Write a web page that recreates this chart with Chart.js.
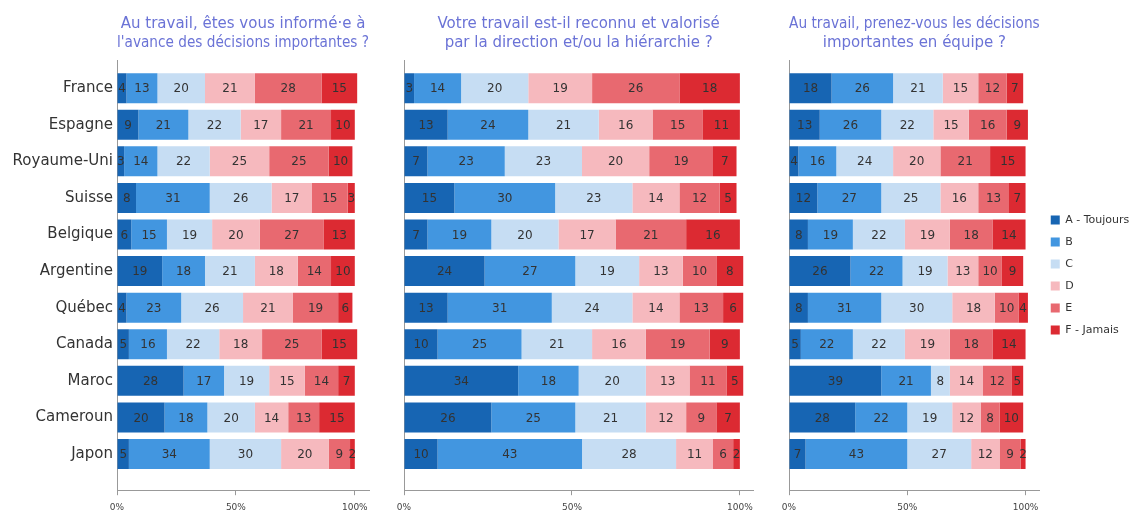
<!DOCTYPE html>
<html>
<head>
<meta charset="utf-8">
<script src="https://cdn.jsdelivr.net/npm/chart.js@4/dist/chart.umd.min.js"></script>
<style>
    body { margin: 0; background: #fff; }
    .panel { position: absolute; top: 0; }
</style>
</head>
<body>
<div class="panel" style="left:0px"><canvas id="chartInforme" width="375" height="515"></canvas></div>
<div class="panel" style="left:380px"><canvas id="chartReconnu" width="380" height="515"></canvas></div>
<div class="panel" style="left:760px"><canvas id="chartEquipe" width="381" height="515"></canvas></div>
<script>
// Pays (du haut vers le bas)
const countries = ["France", "Espagne", "Royaume-Uni", "Suisse", "Belgique", "Argentine", "Québec", "Canada", "Maroc", "Cameroun", "Japon"];
const answers = ["A - Toujours", "B", "C", "D", "E", "F - Jamais"];
const xTicks = [0, 50, 100];

// une ligne par réponse (A..F), une valeur par pays
const informeValues = [
    [4, 9, 3, 8, 6, 19, 4, 5, 28, 20, 5],
    [13, 21, 14, 31, 15, 18, 23, 16, 17, 18, 34],
    [20, 22, 22, 26, 19, 21, 26, 22, 19, 20, 30],
    [21, 17, 25, 17, 20, 18, 21, 18, 15, 14, 20],
    [28, 21, 25, 15, 27, 14, 19, 25, 14, 13, 9],
    [15, 10, 10, 3, 13, 10, 6, 15, 7, 15, 2]
];
const reconnuValues = [
    [3, 13, 7, 15, 7, 24, 13, 10, 34, 26, 10],
    [14, 24, 23, 30, 19, 27, 31, 25, 18, 25, 43],
    [20, 21, 23, 23, 20, 19, 24, 21, 20, 21, 28],
    [19, 16, 20, 14, 17, 13, 14, 16, 13, 12, 11],
    [26, 15, 19, 12, 21, 10, 13, 19, 11, 9, 6],
    [18, 11, 7, 5, 16, 8, 6, 9, 5, 7, 2]
];
const equipeValues = [
    [18, 13, 4, 12, 8, 26, 8, 5, 39, 28, 7],
    [26, 26, 16, 27, 19, 22, 31, 22, 21, 22, 43],
    [21, 22, 24, 25, 22, 19, 30, 22, 8, 19, 27],
    [15, 15, 20, 16, 19, 13, 18, 19, 14, 12, 12],
    [12, 16, 21, 13, 18, 10, 10, 18, 12, 8, 9],
    [7, 9, 15, 7, 14, 9, 4, 14, 5, 10, 2]
];

const colors = ["#1765b3", "#4296e0", "#c6ddf3", "#f6b9be", "#e86970", "#dc2a32"];
const FONT = "'DejaVu Sans', sans-serif";

// draw the value in the middle of each segment
const segmentLabels = {
    id: "segmentLabels",
    afterDatasetsDraw(chart) {
        const ctx = chart.ctx;
        ctx.save();
        ctx.font = "12px " + FONT;
        ctx.fillStyle = "#333";
        ctx.textAlign = "center";
        ctx.textBaseline = "middle";
        chart.data.datasets.forEach((ds, d) => {
            chart.getDatasetMeta(d).data.forEach((bar, i) => {
                const { x, base, y } = bar.getProps(["x", "base", "y"], true);
                ctx.fillText(String(ds.data[i].x), (x + base) / 2, y + 1);
            });
        });
        ctx.restore();
    }
};

function buildDatasets(rows) {
    return answers.map((name, s) => ({
        label: name,
        data: rows[s].map((v, i) => ({ x: v, y: i })),
        backgroundColor: colors[s],
        borderWidth: 0,
        categoryPercentage: 0.82,
        barPercentage: 1
    }));
}

function renderPanel(canvasId, title, rows, cfg) {
    const ctx = document.getElementById(canvasId).getContext("2d");
    new Chart(ctx, {
        type: "bar",
        data: { datasets: buildDatasets(rows) },
        plugins: [segmentLabels],
        options: {
            indexAxis: "y",
            responsive: false,
            animation: false,
            layout: { padding: { right: cfg.padRight, bottom: -5 } },
            scales: {
                x: {
                    type: "linear",
                    stacked: true,
                    min: 0,
                    max: cfg.xMax,
                    afterBuildTicks: (s) => { s.ticks = xTicks.map(v => ({ value: v })); },
                    ticks: {
                        callback: (v) => v + "%",
                        font: { size: 9, family: FONT },
                        color: "#444",
                        padding: 7,
                        maxRotation: 0
                    },
                    grid: { drawOnChartArea: false, tickLength: 5, color: "#999" },
                    border: { color: "#999" }
                },
                y: {
                    type: "linear",
                    offset: false,
                    stacked: true,
                    reverse: true,
                    min: -0.77,
                    max: 10.99,
                    afterBuildTicks: (s) => { s.ticks = countries.map((c, i) => ({ value: i })); },
                    afterFit: (s) => { s.width = cfg.yWidth; },
                    ticks: {
                        display: cfg.showCountries,
                        autoSkip: false,
                        callback: (v) => countries[v],
                        font: { size: 15, family: FONT },
                        color: "#333",
                        padding: 4
                    },
                    grid: { display: false, drawTicks: false, offset: false },
                    border: { color: "#999" }
                }
            },
            plugins: {
                title: {
                    display: true,
                    text: title,
                    color: "#6b73d6",
                    fullSize: false,
                    font: { size: 15, family: FONT, weight: "normal", lineHeight: 1.267 },
                    padding: { top: 15, bottom: 7 }
                },
                legend: {
                    display: cfg.showLegend,
                    position: "right",
                    fullSize: false,
                    labels: {
                        boxWidth: 9,
                        boxHeight: 9,
                        padding: 11,
                        color: "#333",
                        font: { size: 11, family: FONT }
                    }
                },
                tooltip: { enabled: false }
            }
        }
    });
}

renderPanel("chartInforme", ["Au travail, êtes vous informé·e à", "l'avance des décisions importantes ?"], informeValues,
    { yWidth: 117, padRight: 5, xMax: 106, showCountries: true, showLegend: false });
renderPanel("chartReconnu", ["Votre travail est-il reconnu et valorisé", "par la direction et/ou la hiérarchie ?"], reconnuValues,
    { yWidth: 24, padRight: 5, xMax: 104, showCountries: false, showLegend: false });
renderPanel("chartEquipe", ["Au travail, prenez-vous les décisions", "importantes en équipe ?"], equipeValues,
    { yWidth: 29, padRight: 8, xMax: 106, showCountries: false, showLegend: true });
</script>
</body>
</html>
